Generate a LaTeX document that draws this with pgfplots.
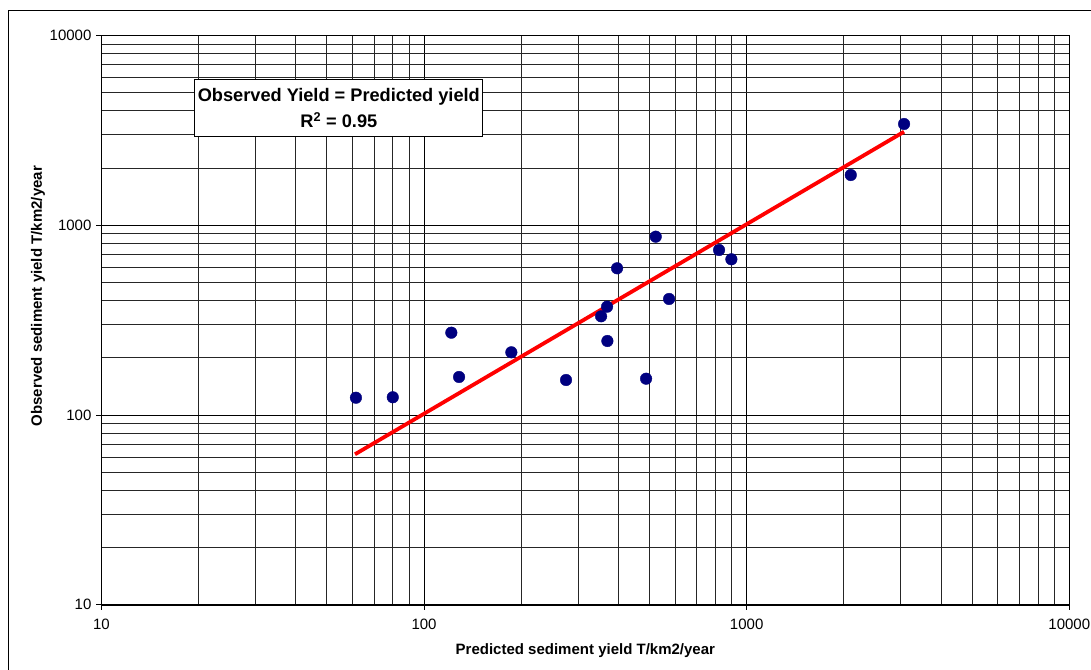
\documentclass[border=0pt]{standalone}
\usepackage{fontspec}
\setmainfont{Liberation Sans}
\usepackage{pgfplots}
\pgfplotsset{compat=1.18}
\definecolor{navy}{RGB}{0,0,128}
\definecolor{xlred}{RGB}{255,0,0}

\begin{document}
\begin{tikzpicture}
\useasboundingbox (0,0) rectangle (1091pt,669pt);
\fill[white] (0,0) rectangle (1091pt,669pt);
\draw[line width=1.2pt] (8.3pt,-5pt) -- (8.3pt,658.3pt) -- (1100pt,658.3pt);
\begin{axis}[
  at={(101.4pt,64.2pt)}, anchor=south west,
  scale only axis, width=967.9pt, height=569.4pt,
  xmode=log, ymode=log,
  xmin=10, xmax=10000, ymin=10, ymax=10000,
  axis x line*=bottom, axis y line*=left,
  axis line style={line width=1.6pt, black},
  xtick={10,100,1000,10000}, xticklabels={10,100,1000,10000},
  ytick={10,100,1000,10000}, yticklabels={10,100,1000,10000},
  minor xtick={20,30,40,50,60,70,80,90,200,300,400,500,600,700,800,900,2000,3000,4000,5000,6000,7000,8000,9000},
  minor ytick={20,30,40,50,60,70,80,90,200,300,400,500,600,700,800,900,2000,3000,4000,5000,6000,7000,8000,9000},
  grid=both,
  major grid style={black, line width=0.85pt},
  minor grid style={black!85, line width=0.85pt},
  tick align=outside, major tick length=5pt, minor tick length=0pt,
  tick style={black, line width=0.8pt},
  ticklabel style={font=\fontsize{15}{17}\selectfont},
  xticklabel style={yshift=-6pt},
  yticklabel style={xshift=-1.5pt},
  xlabel={Predicted sediment yield T/km2/year},
  ylabel={Observed sediment yield T/km2/year},
  label style={font=\fontsize{15}{18}\selectfont\bfseries},
  xlabel style={at={(axis description cs:0.5,-0.0811)}, anchor=center},
  ylabel style={at={(axis description cs:-0.0655,0.542)}, anchor=center},
]
\addplot[xlred, line width=3.8pt, no marks] coordinates {(61.1,62.1) (3075,3108)};
\addplot[only marks, mark=*, mark size=5.8pt, mark options={fill=navy, draw=navy}] table {
x y
61.5 123.3
80.0 124.0
121.5 271.4
128.4 158.6
186.5 213.9
275.5 152.9
522.6 869.8
396.6 592.9
369.3 372.1
353.8 331.1
370.1 245.4
487.8 155.3
574.8 408.6
821.1 740.2
896.6 661.2
2102 1838
3075 3414
};
\node[draw=black, fill=white, line width=1pt, minimum width=287.7pt, minimum height=57.4pt,
  align=center, inner sep=0pt, font=\fontsize{18.2}{26}\selectfont\bfseries]
  at (axis description cs:0.2453,0.8725) {Observed Yield = Predicted yield\\R\textsuperscript{2} = 0.95};
\end{axis}
\end{tikzpicture}
\end{document}
